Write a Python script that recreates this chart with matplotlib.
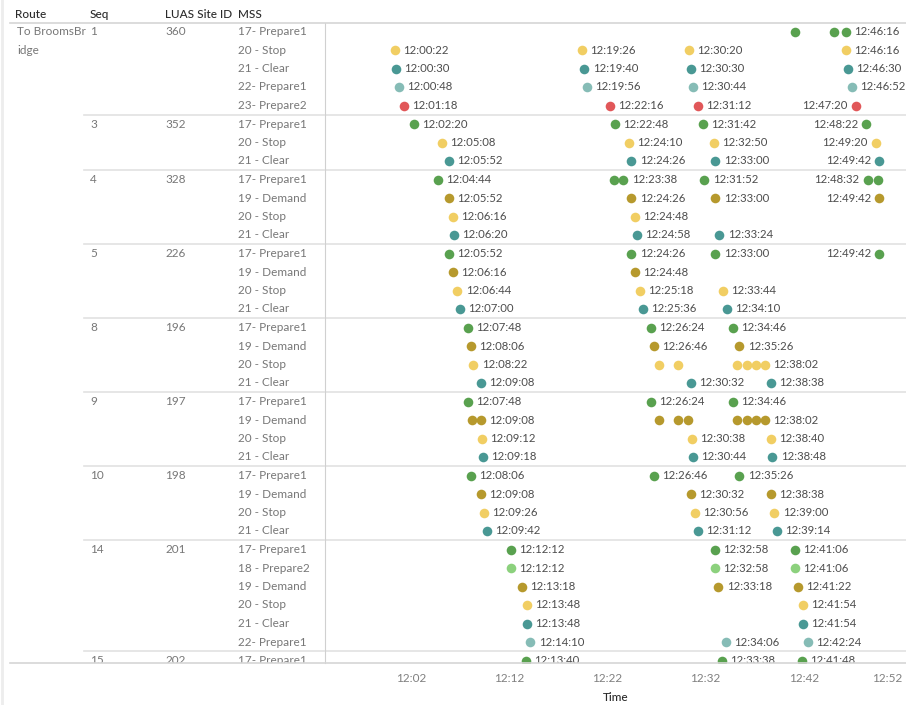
import matplotlib
matplotlib.use("Agg")  # no display
import matplotlib.pyplot as plt

plt.rcParams['font.family'] = ['Lato', 'DejaVu Sans']

# ---- data ----
route = ["To BroomsBr", "idge"]
seqs = [1, 3, 4, 5, 8, 9, 10, 14, 15]
site_ids = [360, 352, 328, 226, 196, 197, 198, 201, 202]
mss_by_seq = [
    ["17- Prepare1", "20 - Stop", "21 - Clear", "22- Prepare1", "23- Prepare2"],
    ["17- Prepare1", "20 - Stop", "21 - Clear"],
    ["17- Prepare1", "19 - Demand", "20 - Stop", "21 - Clear"],
    ["17- Prepare1", "19 - Demand", "20 - Stop", "21 - Clear"],
    ["17- Prepare1", "19 - Demand", "20 - Stop", "21 - Clear"],
    ["17- Prepare1", "19 - Demand", "20 - Stop", "21 - Clear"],
    ["17- Prepare1", "19 - Demand", "20 - Stop", "21 - Clear"],
    ["17- Prepare1", "18 - Prepare2", "19 - Demand", "20 - Stop", "21 - Clear", "22- Prepare1"],
    ["17- Prepare1"],
]
row_times = [
    # seq 1
    ["12:41:06", "12:45:04", "12:46:16"],
    ["12:00:22", "12:19:26", "12:30:20", "12:46:16"],
    ["12:00:30", "12:19:40", "12:30:30", "12:46:30"],
    ["12:00:48", "12:19:56", "12:30:44", "12:46:52"],
    ["12:01:18", "12:22:16", "12:31:12", "12:47:20"],
    # seq 3
    ["12:02:20", "12:22:48", "12:31:42", "12:48:22"],
    ["12:05:08", "12:24:10", "12:32:50", "12:49:20"],
    ["12:05:52", "12:24:26", "12:33:00", "12:49:42"],
    # seq 4
    ["12:04:44", "12:22:40", "12:23:38", "12:31:52", "12:48:32", "12:49:34"],
    ["12:05:52", "12:24:26", "12:33:00", "12:49:42"],
    ["12:06:16", "12:24:48"],
    ["12:06:20", "12:24:58", "12:33:24"],
    # seq 5
    ["12:05:52", "12:24:26", "12:33:00", "12:49:42"],
    ["12:06:16", "12:24:48"],
    ["12:06:44", "12:25:18", "12:33:44"],
    ["12:07:00", "12:25:36", "12:34:10"],
    # seq 8
    ["12:07:48", "12:26:24", "12:34:46"],
    ["12:08:06", "12:26:46", "12:35:26"],
    ["12:08:22", "12:27:18", "12:29:14", "12:35:14", "12:36:10", "12:37:06", "12:38:02"],
    ["12:09:08", "12:30:32", "12:38:38"],
    # seq 9
    ["12:07:48", "12:26:24", "12:34:46"],
    ["12:08:10", "12:09:08", "12:27:18", "12:29:12", "12:30:12",
     "12:35:14", "12:36:10", "12:37:06", "12:38:02"],
    ["12:09:12", "12:30:38", "12:38:40"],
    ["12:09:18", "12:30:44", "12:38:48"],
    # seq 10
    ["12:08:06", "12:26:46", "12:35:26"],
    ["12:09:08", "12:30:32", "12:38:38"],
    ["12:09:26", "12:30:56", "12:39:00"],
    ["12:09:42", "12:31:12", "12:39:14"],
    # seq 14
    ["12:12:12", "12:32:58", "12:41:06"],
    ["12:12:12", "12:32:58", "12:41:06"],
    ["12:13:18", "12:33:18", "12:41:22"],
    ["12:13:48", "12:41:54"],
    ["12:13:48", "12:41:54"],
    ["12:14:10", "12:34:06", "12:42:24"],
    # seq 15
    ["12:13:40", "12:33:38", "12:41:48"],
]
# marks Tableau left without a label (row index, time)
unlabeled = {
    (0, "12:41:06"), (0, "12:45:04"),
    (8, "12:22:40"), (8, "12:49:34"),
    (18, "12:27:18"), (18, "12:29:14"), (18, "12:35:14"), (18, "12:36:10"), (18, "12:37:06"),
    (21, "12:08:10"), (21, "12:27:18"), (21, "12:29:12"), (21, "12:30:12"),
    (21, "12:35:14"), (21, "12:36:10"), (21, "12:37:06"),
}
tick_minutes = [2, 12, 22, 32, 42, 52]

mss_colors = {
    "17- Prepare1": "#59a14f",
    "18 - Prepare2": "#8cd17d",
    "19 - Demand": "#b6992d",
    "20 - Stop": "#f1ce63",
    "21 - Clear": "#499894",
    "22- Prepare1": "#86bcb6",
    "23- Prepare2": "#e15759",
}


def to_min(s):
    h, m, sec = [int(v) for v in s.split(":")]
    return (h - 12) * 60 + m + sec / 60.0


W, H = 906, 705
fig = plt.figure(figsize=(W / 100, H / 100), dpi=100)


def fx(px):
    return px / W


def fy(py):
    return 1 - py / H


top_px, bot_px, split_px = 23, 663, 325
row0_px, row_h = 31.5, 18.5
ylim = ((bot_px - row0_px) / row_h, (top_px - row0_px) / row_h)

pane = fig.add_axes([fx(split_px), fy(bot_px), 1 - fx(split_px), fy(top_px) - fy(bot_px)])
head = fig.add_axes([0, fy(bot_px), fx(split_px), fy(top_px) - fy(bot_px)])

# flatten rows
row_mss, group_starts = [], []
for g, names in enumerate(mss_by_seq):
    group_starts.append(len(row_mss))
    row_mss.extend(names)

text_grey = "#777777"
label_grey = "#4d4d4d"
line_grey = "#e2e2e2"

# ---- row headers ----
head.set_xlim(0, split_px)
head.set_ylim(*ylim)
head.axis("off")
for k, part in enumerate(route):
    head.text(17, k, part, va="center", ha="left", fontsize=8.5, color=text_grey, clip_on=True)
for g, start in enumerate(group_starts):
    head.text(90, start, str(seqs[g]), va="center", fontsize=8.5, color=text_grey, clip_on=True)
    head.text(165, start, str(site_ids[g]), va="center", fontsize=8.5, color=text_grey, clip_on=True)
    if start > 0:
        head.plot([84, split_px], [start - 0.5] * 2, color=line_grey, lw=1.2, clip_on=True)
for i, name in enumerate(row_mss):
    head.text(238, i, name, va="center", fontsize=8.5, color=text_grey, clip_on=True)

for x, name in [(15, "Route"), (90, "Seq"), (165, "LUAS Site ID"), (238, "MSS")]:
    fig.text(fx(x), fy(15), name, va="center", ha="left", fontsize=8.5,
             fontweight="medium", color="#2b2b2b")

# ---- marks ----
pane.set_xlim(-6.75, 52.4)
pane.set_ylim(*ylim)
for i, times in enumerate(row_times):
    color = mss_colors[row_mss[i]]
    xs = [to_min(t) for t in times]
    pane.scatter(xs, [i] * len(xs), s=48, color=color, linewidths=0, zorder=3, clip_on=True)
    for t, x in zip(times, xs):
        if (i, t) in unlabeled:
            continue
        left = x > 47.0
        pane.annotate(t, (x, i), xytext=(-6 if left else 6, 0), textcoords="offset points",
                      ha="right" if left else "left", va="center", fontsize=8.2,
                      color=label_grey, clip_on=True, annotation_clip=False)

for start in group_starts[1:]:
    pane.axhline(start - 0.5, color=line_grey, lw=1.2, zorder=1)

pane.set_xticks(tick_minutes)
pane.set_xticklabels(["12:%02d" % m for m in tick_minutes])
pane.get_xticklabels()[-1].set_ha("right")
pane.tick_params(axis="x", length=0, pad=7, labelsize=8.5, labelcolor="#808080")
pane.set_yticks([])
pane.set_xlabel("Time", fontsize=8.5, fontweight="medium", color="#2b2b2b", labelpad=6)
for side in ["top", "right", "bottom"]:
    pane.spines[side].set_visible(False)
pane.spines["left"].set_color("#d0d0d0")

# frame lines of the table
fig.add_artist(plt.Line2D([fx(10), 1], [fy(top_px)] * 2, color="#d6d6d6", lw=1.2))
fig.add_artist(plt.Line2D([fx(10), 1], [fy(bot_px)] * 2, color="#d6d6d6", lw=1.2))
fig.add_artist(plt.Line2D([fx(2), fx(2)], [0, 1], color="#ededed", lw=2))

fig.savefig("out.png", dpi=100)
